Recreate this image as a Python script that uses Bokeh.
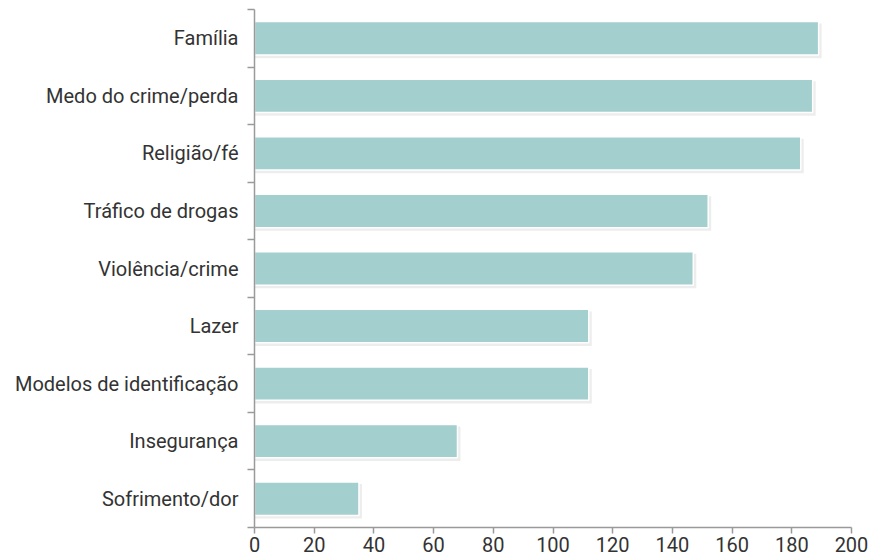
import numpy as np
from bokeh.plotting import figure
from bokeh.models import Range1d, FixedTicker
from bokeh.embed import file_html
from bokeh.resources import INLINE

categories = ["Família", "Medo do crime/perda", "Religião/fé", "Tráfico de drogas",
              "Violência/crime", "Lazer", "Modelos de identificação", "Insegurança",
              "Sofrimento/dor"]
values = [189, 187, 183, 152, 147, 112, 112, 68, 35]
x_ticks = [0, 20, 40, 60, 80, 100, 120, 140, 160, 180, 200]

n = len(categories)
ypos = [n - 0.5 - i for i in range(n)]

FONT = "Roboto"

p = figure(width=878, height=556, output_backend="svg", toolbar_location=None,
           x_range=Range1d(0, 200), y_range=Range1d(0, n),
           min_border_left=254, min_border_right=27, min_border_top=9, min_border_bottom=29)
p.outline_line_color = None
p.grid.visible = False
p.background_fill_color = "white"
p.border_fill_color = "white"

# subtle shadow
p.hbar(y=[y - 0.045 for y in ypos], left=0, right=[v + 1.0 for v in values], height=0.6,
       fill_color="black", fill_alpha=0.07, line_color=None)
p.hbar(y=ypos, left=0, right=values, height=0.58,
       fill_color="#a4cfcf", line_color="white", line_width=1.5)

xa = p.xaxis[0]
xa.ticker = FixedTicker(ticks=x_ticks)
xa.axis_line_color = "#9a9a9a"
xa.axis_line_width = 1.5
xa.major_tick_line_color = "#9a9a9a"
xa.major_tick_line_width = 1.5
xa.major_tick_in = 0
xa.major_tick_out = 6
xa.minor_tick_line_color = None
xa.major_label_text_font = FONT
xa.major_label_text_font_size = "20px"
xa.major_label_text_color = "#333333"
xa.major_label_standoff = 3

ya = p.yaxis[0]
ya.ticker = FixedTicker(ticks=ypos, minor_ticks=list(range(n + 1)))
ya.major_label_overrides = {y: c for y, c in zip(ypos, categories)}
ya.axis_line_color = "#9a9a9a"
ya.axis_line_width = 1.5
ya.major_tick_line_color = None
ya.major_tick_in = 0
ya.major_tick_out = 0
ya.minor_tick_line_color = "#9a9a9a"
ya.minor_tick_line_width = 1.5
ya.minor_tick_in = 0
ya.minor_tick_out = 7
ya.major_label_text_font = FONT
ya.major_label_text_font_size = "20px"
ya.major_label_text_color = "#333333"
ya.major_label_standoff = 9

open("out.html", "w").write(file_html(p, INLINE))
